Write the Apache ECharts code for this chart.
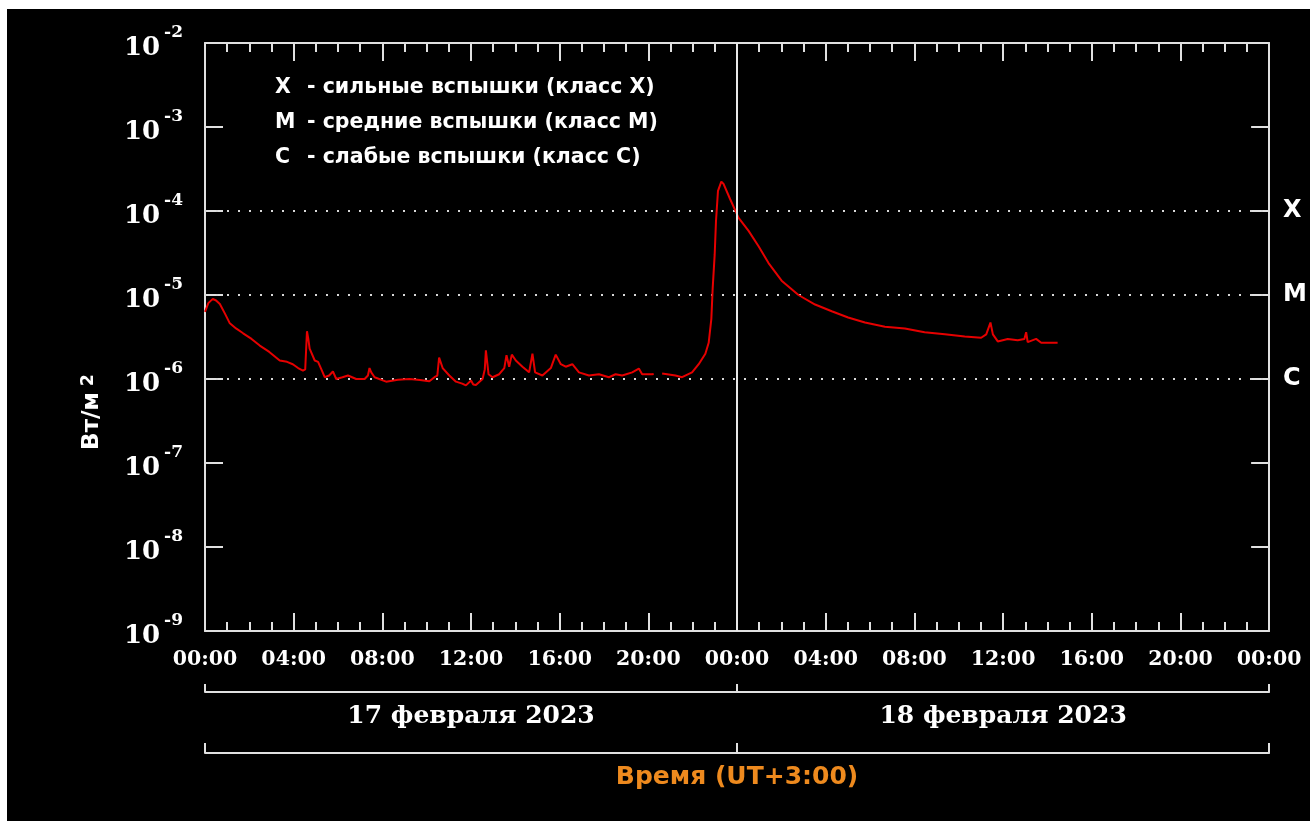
<!DOCTYPE html>
<html>
<head>
<meta charset="utf-8">
<script src="https://cdn.jsdelivr.net/npm/echarts@6/dist/echarts.min.js"></script>
<style>
html, body { margin: 0; background: #fff; }
#chart { position: absolute; left: 7px; top: 9px; width: 1303px; height: 812px; background: #000; }
</style>
</head>
<body>
<div id="chart"></div>
<script>
// часы от 17.02.2023 00:00 (UT+3)
var hours = [0.0, 0.15, 0.35, 0.5, 0.67, 0.9, 1.12, 1.4, 1.72, 2.1, 2.47, 2.9, 3.37, 3.7, 3.96, 4.2, 4.42, 4.52, 4.6, 4.66,
  4.72, 4.95, 5.1, 5.25, 5.4, 5.6, 5.77, 5.92, 6.2, 6.45, 6.82, 7.2, 7.35, 7.42, 7.5, 7.65, 8.17, 8.7, 9.22, 9.7,
  10.12, 10.35, 10.48, 10.56, 10.72, 11.02, 11.32, 11.6, 11.77, 12.0, 12.1, 12.22, 12.52, 12.62, 12.67, 12.79, 12.97, 13.27, 13.5, 13.6,
  13.72, 13.84, 14.02, 14.32, 14.62, 14.7, 14.77, 14.89, 15.22, 15.6, 15.82, 16.05, 16.27, 16.57, 16.87, 17.32, 17.77, 18.22, 18.52, 18.82,
  19.27, 19.57, 19.72, 20.17, 20.24, 20.4, 20.62, 21.22, 21.52, 21.97, 22.27, 22.57, 22.72, 22.84, 22.9, 22.99, 23.05, 23.14, 23.29, 23.39,
  23.69, 24.07, 24.52, 24.97, 25.42, 26.01, 26.77, 27.52, 28.27, 29.01, 29.77, 30.67, 31.57, 32.46, 33.37, 34.27, 35.01, 35.24, 35.43, 35.54,
  35.76, 36.21, 36.66, 36.96, 37.04, 37.11, 37.49, 37.72, 38.46];
// поток, Вт/м2
var flux = [6.3e-6, 8.0e-6, 9.0e-6, 8.6e-6, 7.8e-6, 6.0e-6, 4.6e-6, 4.0e-6, 3.5e-6, 3.0e-6, 2.5e-6, 2.1e-6, 1.66e-6, 1.6e-6, 1.5e-6, 1.35e-6, 1.26e-6, 1.3e-6, 3.7e-6, 3.0e-6,
  2.3e-6, 1.66e-6, 1.6e-6, 1.3e-6, 1.05e-6, 1.1e-6, 1.23e-6, 1.0e-6, 1.05e-6, 1.1e-6, 1.0e-6, 1.0e-6, 1.1e-6, 1.35e-6, 1.2e-6, 1.05e-6, 0.93e-6, 0.98e-6, 1.0e-6, 0.97e-6,
  0.94e-6, 1.05e-6, 1.1e-6, 1.8e-6, 1.35e-6, 1.1e-6, 0.93e-6, 0.88e-6, 0.84e-6, 0.96e-6, 0.86e-6, 0.85e-6, 1.0e-6, 1.3e-6, 2.2e-6, 1.14e-6, 1.05e-6, 1.14e-6, 1.35e-6, 1.92e-6,
  1.4e-6, 1.95e-6, 1.66e-6, 1.4e-6, 1.2e-6, 1.25e-6, 2.0e-6, 1.2e-6, 1.1e-6, 1.35e-6, 1.95e-6, 1.5e-6, 1.4e-6, 1.5e-6, 1.2e-6, 1.1e-6, 1.14e-6, 1.05e-6, 1.14e-6, 1.1e-6,
  1.2e-6, 1.33e-6, 1.14e-6, 1.14e-6, 1.15e-6, null, 1.16e-6, 1.1e-6, 1.05e-6, 1.2e-6, 1.5e-6, 2.0e-6, 2.7e-6, 5.2e-6, 1.2e-5, 3.0e-5, 7.6e-5, 1.74e-4, 2.24e-4, 2.1e-4,
  1.38e-4, 8.3e-5, 5.8e-5, 3.8e-5, 2.4e-5, 1.48e-5, 1.0e-5, 7.7e-6, 6.4e-6, 5.4e-6, 4.7e-6, 4.2e-6, 4.0e-6, 3.6e-6, 3.4e-6, 3.2e-6, 3.1e-6, 3.4e-6, 4.7e-6, 3.4e-6,
  2.8e-6, 3.0e-6, 2.9e-6, 3.0e-6, 3.6e-6, 2.75e-6, 3.0e-6, 2.7e-6, 2.7e-6];

var classValues = [1e-4, 1e-5, 1e-6];
var classNames = ['X', 'M', 'C'];
var classText = ['- сильные вспышки (класс X)', '- средние вспышки (класс M)', '- слабые вспышки (класс C)'];
var dayLabels = ['17 февраля 2023', '18 февраля 2023'];

var frame = { color: '#e0e0e0', width: 2 };
var serif = 'DejaVu Serif';
var sans = 'DejaVu Sans';

var myChart = echarts.init(document.getElementById('chart'));

function hhmm(v) {
  var h = Math.round(v) % 24;
  return (h < 10 ? '0' : '') + h + ':00';
}

var legendLines = classNames.map(function (k, i) {
  return '{k|' + k + '}{t|' + classText[i] + '}';
}).join('\n');

// пунктирные уровни классов X, M, C
var levelSeries = classValues.map(function (v) {
  return {
    type: 'line',
    xAxisIndex: 0,
    yAxisIndex: 0,
    silent: true,
    showSymbol: false,
    z: 1,
    data: [[0, v], [48, v]],
    lineStyle: { color: '#d8d8d8', width: 2, type: [2, 9] }
  };
});

var option = {
  backgroundColor: '#000',
  animation: false,
  title: {
    left: 268,
    top: 61,
    padding: 0,
    text: legendLines,
    textStyle: {
      rich: {
        k: { color: '#fff', fontFamily: sans, fontWeight: 'bold', fontSize: 20.5, width: 32, lineHeight: 35 },
        t: { color: '#fff', fontFamily: sans, fontWeight: 'bold', fontSize: 20.5, lineHeight: 35 }
      }
    }
  },
  grid: { left: 198, top: 34, width: 1067, height: 588, containLabel: false },
  xAxis: [
    {
      type: 'value', position: 'bottom', min: 0, max: 48, interval: 4,
      axisLine: { show: true, onZero: false, lineStyle: frame },
      axisTick: { show: true, inside: true, length: 18, lineStyle: frame },
      minorTick: { show: true, splitNumber: 4, length: 9, lineStyle: frame },
      splitLine: { show: false },
      axisLabel: { color: '#fff', fontFamily: serif, fontWeight: 'bold', fontSize: 20.5, margin: 18, formatter: hhmm }
    },
    {
      type: 'value', position: 'top', min: 0, max: 48, interval: 4,
      axisLine: { show: true, onZero: false, lineStyle: frame },
      axisTick: { show: true, inside: true, length: 18, lineStyle: frame },
      minorTick: { show: true, splitNumber: 4, length: 9, lineStyle: frame },
      splitLine: { show: false },
      axisLabel: { show: false }
    },
    {
      type: 'value', position: 'bottom', offset: 61, min: 0, max: 48, interval: 24,
      axisLine: { show: true, onZero: false, lineStyle: frame },
      axisTick: { show: true, inside: true, length: 8, lineStyle: frame },
      splitLine: { show: false },
      axisLabel: { show: false }
    },
    {
      type: 'value', position: 'bottom', offset: 61, min: 0, max: 48, interval: 12,
      axisLine: { show: false, onZero: false },
      axisTick: { show: false },
      splitLine: { show: false },
      axisLabel: {
        color: '#fff', fontFamily: serif, fontWeight: 'bold', fontSize: 25, margin: 12,
        formatter: function (v) { return v % 24 === 12 ? dayLabels[(v - 12) / 24] : ''; }
      }
    },
    {
      type: 'value', position: 'bottom', offset: 122, min: 0, max: 48, interval: 24,
      axisLine: { show: true, onZero: false, lineStyle: frame },
      axisTick: { show: true, inside: true, length: 10, lineStyle: frame },
      splitLine: { show: false },
      axisLabel: { show: false },
      name: 'Время (UT+3:00)',
      nameLocation: 'middle',
      nameGap: 12,
      nameTextStyle: { color: '#ee8a1e', fontFamily: sans, fontWeight: 'bold', fontSize: 25, verticalAlign: 'top' }
    }
  ],
  yAxis: [
    {
      type: 'log', logBase: 10, min: 1e-9, max: 1e-2, interval: 1, position: 'left',
      axisLine: { show: true, onZero: false, lineStyle: frame },
      axisTick: { show: true, inside: true, length: 18, lineStyle: frame },
      splitLine: { show: false },
      axisLabel: {
        margin: 22,
        formatter: function (v) { return '{b|10}{s|' + Math.round(Math.log10(v)) + '}'; },
        rich: {
          b: { color: '#fff', fontFamily: serif, fontWeight: 'bold', fontSize: 26, padding: [11, 4, 0, 0] },
          s: { color: '#fff', fontFamily: serif, fontWeight: 'bold', fontSize: 17, verticalAlign: 'top', padding: [0, 0, 12, 0] }
        }
      },
      name: '{a|Вт/м}{s| 2}',
      nameLocation: 'middle',
      nameRotate: 90,
      nameGap: 100,
      nameTextStyle: {
        padding: [0, 150, 0, 0],
        rich: {
          a: { color: '#fff', fontFamily: sans, fontWeight: 'bold', fontSize: 23 },
          s: { color: '#fff', fontFamily: sans, fontWeight: 'bold', fontSize: 17, padding: [0, 0, 8, 0] }
        }
      }
    },
    {
      type: 'log', logBase: 10, min: 1e-9, max: 1e-2, interval: 1, position: 'right',
      axisLine: { show: true, onZero: false, lineStyle: frame },
      axisTick: { show: true, inside: true, length: 18, lineStyle: frame },
      splitLine: { show: false },
      axisLabel: {
        color: '#fff', fontFamily: sans, fontWeight: 'bold', fontSize: 24, margin: 14,
        formatter: function (v) {
          for (var i = 0; i < classValues.length; i++) {
            if (Math.abs(Math.log10(v) - Math.log10(classValues[i])) < 0.01) return classNames[i];
          }
          return '';
        }
      }
    }
  ],
  series: levelSeries.concat([
    {
      type: 'line',
      xAxisIndex: 0,
      yAxisIndex: 0,
      z: 3,
      data: hours.map(function (h, i) { return [h, flux[i]]; }),
      showSymbol: false,
      connectNulls: false,
      lineStyle: { color: '#e60000', width: 2 },
      markLine: {
        silent: true,
        symbol: 'none',
        label: { show: false },
        data: [{ xAxis: 24, lineStyle: { color: '#e8e8e8', width: 2, type: 'solid' } }]
      }
    }
  ])
};

myChart.setOption(option);
</script>
</body>
</html>
